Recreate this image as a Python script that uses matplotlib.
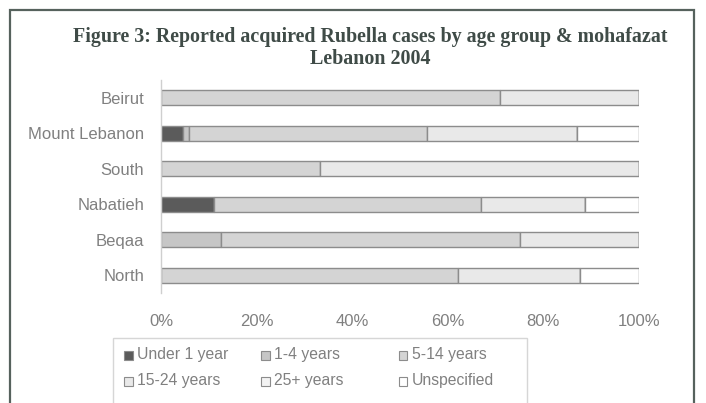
import matplotlib
matplotlib.use("Agg")
import matplotlib.pyplot as plt
from matplotlib.patches import Rectangle
import numpy as np

# Regions (top to bottom) and the share of cases (%) in each age group
regions = ["Beirut", "Mount Lebanon", "South", "Nabatieh", "Beqaa", "North"]
age_groups = ["Under 1 year", "1-4 years", "5-14 years",
              "15-24 years", "25+ years", "Unspecified"]
under_1 = [0.0, 4.5, 0.0, 11.1, 0.0, 0.0]
age_1_4 = [0.0, 1.4, 0.0, 0.0, 12.6, 0.0]
age_5_14 = [70.9, 49.7, 33.3, 55.9, 62.6, 62.2]
age_15_24 = [29.1, 31.4, 66.7, 21.8, 24.8, 25.4]
age_25_plus = [0.0, 0.0, 0.0, 0.0, 0.0, 0.0]
unspecified = [0.0, 13.0, 0.0, 11.2, 0.0, 12.4]
x_ticks = [0, 20, 40, 60, 80, 100]
x_tick_labels = ["0%", "20%", "40%", "60%", "80%", "100%"]

series = [under_1, age_1_4, age_5_14, age_15_24, age_25_plus, unspecified]
colors = ["#5b5b5b", "#c6c6c6", "#d4d4d4", "#e9e9e9", "#f3f3f3", "#ffffff"]
edge = "#8c8c8c"
text_grey = "#808080"

W, H = 706, 403
fig = plt.figure(figsize=(W / 100, H / 100), dpi=100)
fig.patch.set_facecolor("white")


def px(x, y):
    """Pixel position (from top-left) to figure fraction."""
    return x / W, 1 - y / H


# Outer frame (open at the bottom edge of the page)
frame = Rectangle((10 / W, -0.1), (694 - 10) / W, 1.1 - 10 / H,
                  transform=fig.transFigure, fill=False,
                  edgecolor="#56625d", linewidth=1.6)
fig.patches.append(frame)

title_kw = dict(family="Liberation Serif", weight="bold", color="#3f4b47",
                fontsize=14.4, ha="center", va="center")
fig.text(*px(370, 37),
         "Figure 3: Reported acquired Rubella cases by age group & mohafazat",
         **title_kw)
fig.text(*px(370, 59), "Lebanon 2004", **title_kw)

ax = fig.add_axes([161 / W, 1 - 293 / H, (639 - 161) / W, (293 - 80) / H])
y = np.arange(len(regions))
left = np.zeros(len(regions))
for vals, col, name in zip(series, colors, age_groups):
    vals = np.array(vals)
    ax.barh(y, vals, left=left, height=0.42, color=col,
            edgecolor=edge, linewidth=1.0, label=name)
    left += vals

ax.set_ylim(len(regions) - 0.5, -0.5)
ax.set_xlim(0, 100)
ax.set_yticks(y)
ax.set_yticklabels(regions)
ax.set_xticks(x_ticks)
ax.set_xticklabels(x_tick_labels)
for s in ["top", "right", "bottom"]:
    ax.spines[s].set_visible(False)
ax.spines["left"].set_color("#cfcfcf")
ax.spines["left"].set_linewidth(1.0)
ax.tick_params(axis="y", length=0, pad=12, labelsize=12.0, labelcolor=text_grey)
ax.tick_params(axis="x", length=0, pad=15, labelsize=12.0, labelcolor=text_grey)
for lab in ax.get_xticklabels() + ax.get_yticklabels():
    lab.set_family("Liberation Sans")

# Legend box: three entries per row, fixed column positions
legend_box = Rectangle(px(113, 410), (527 - 113) / W, (410 - 338) / H,
                       transform=fig.transFigure, fill=False,
                       edgecolor="#d6d6d6", linewidth=1.0)
fig.patches.append(legend_box)
col_x = [128, 265, 403]
row_y = [355, 381]
sq = 9
for i, (name, col) in enumerate(zip(age_groups, colors)):
    cx, cy = col_x[i % 3], row_y[i // 3]
    fig.patches.append(Rectangle(px(cx - sq / 2, cy + sq / 2), sq / W, sq / H,
                                 transform=fig.transFigure, facecolor=col,
                                 edgecolor=edge, linewidth=0.8))
    fig.text(*px(cx + 9, cy), name, family="Liberation Sans", fontsize=11.3,
             color=text_grey, ha="left", va="center")

fig.savefig("out.png", dpi=100, facecolor="white")
